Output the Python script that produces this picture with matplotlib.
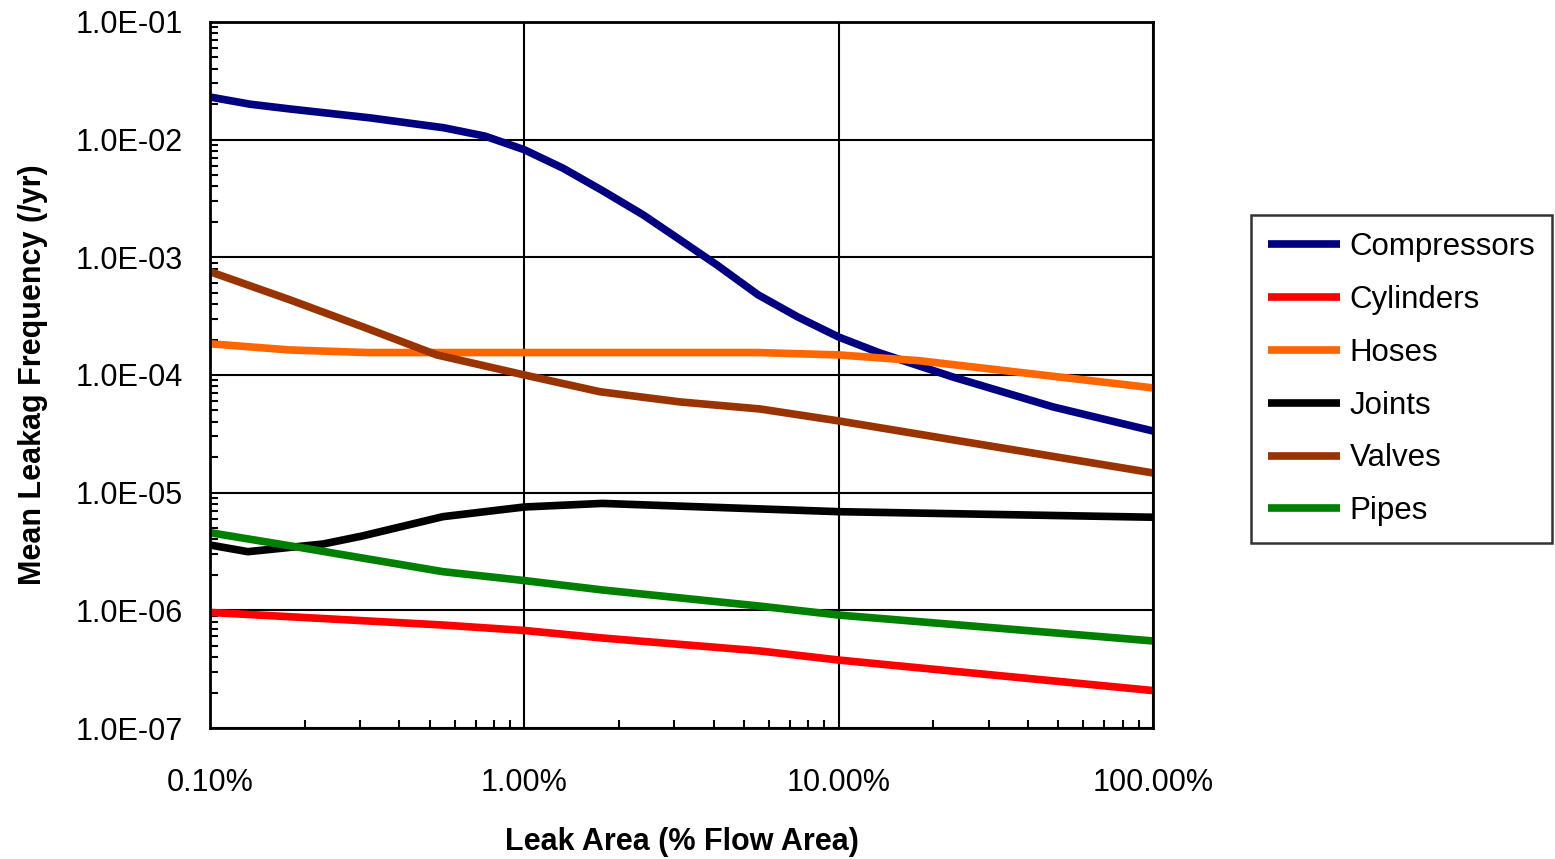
import matplotlib
matplotlib.use("Agg")
import matplotlib.pyplot as plt
from matplotlib.ticker import FuncFormatter, LogLocator, NullFormatter

plt.rcParams["font.family"] = ["Liberation Sans", "DejaVu Sans"]

# leak area (% of flow area) and mean leak frequency (/yr)
comp_x = [0.1, 0.134, 0.18, 0.323, 0.555, 0.75, 1.0, 1.33, 1.78, 2.39, 3.2, 4.1, 5.54, 7.43, 10, 13.5, 23.1, 48.1, 100]
comp_y = [2.3e-2, 2.0e-2, 1.82e-2, 1.53e-2, 1.26e-2, 1.07e-2, 8.2e-3, 5.7e-3, 3.66e-3, 2.29e-3, 1.35e-3,
          8.6e-4, 4.8e-4, 3.1e-4, 2.1e-4, 1.54e-4, 9.6e-5, 5.35e-5, 3.34e-5]

cyl_x = [0.1, 0.55, 1.0, 1.77, 5.6, 10, 100]
cyl_y = [9.6e-7, 7.5e-7, 6.74e-7, 5.82e-7, 4.52e-7, 3.78e-7, 2.08e-7]

hose_x = [0.1, 0.18, 0.316, 5.54, 10, 18.1, 100]
hose_y = [1.84e-4, 1.63e-4, 1.55e-4, 1.55e-4, 1.48e-4, 1.32e-4, 7.76e-5]

joint_x = [0.1, 0.132, 0.229, 0.305, 0.551, 1.0, 1.77, 5.62, 10, 100]
joint_y = [3.59e-6, 3.15e-6, 3.66e-6, 4.28e-6, 6.25e-6, 7.55e-6, 8.1e-6, 7.27e-6, 6.89e-6, 6.18e-6]

valve_x = [0.1, 0.18, 0.307, 0.527, 1.0, 1.74, 3.13, 5.62, 10, 100]
valve_y = [7.55e-4, 4.34e-4, 2.56e-4, 1.48e-4, 1.0e-4, 7.2e-5, 5.9e-5, 5.14e-5, 4.07e-5, 1.47e-5]

pipe_x = [0.1, 0.2, 0.551, 1.0, 1.77, 5.54, 10, 100]
pipe_y = [4.57e-6, 3.37e-6, 2.13e-6, 1.79e-6, 1.49e-6, 1.09e-6, 9.12e-7, 5.49e-7]

series = [
    ("Compressors", comp_x, comp_y, "#000080"),
    ("Cylinders", cyl_x, cyl_y, "#ff0000"),
    ("Hoses", hose_x, hose_y, "#ff6600"),
    ("Joints", joint_x, joint_y, "#000000"),
    ("Valves", valve_x, valve_y, "#993300"),
    ("Pipes", pipe_x, pipe_y, "#008000"),
]

fig = plt.figure(figsize=(15.55, 8.59), dpi=100)
ax = fig.add_axes([0.135, 0.1525, 0.6065, 0.822])

for name, x, y, c in series:
    ax.plot(x, y, color=c, lw=5.5, label=name, solid_capstyle="butt")

ax.set_xscale("log")
ax.set_yscale("log")
ax.set_xlim(0.1, 100)
ax.set_ylim(1e-7, 1e-1)

ax.grid(True, which="major", color="black", lw=1.5)
ax.xaxis.set_minor_locator(LogLocator(base=10, subs=range(2, 10)))
ax.yaxis.set_minor_locator(LogLocator(base=10, subs=range(2, 10)))
ax.xaxis.set_minor_formatter(NullFormatter())
ax.yaxis.set_minor_formatter(NullFormatter())
ax.xaxis.set_major_formatter(FuncFormatter(lambda v, p: f"{v:.2f}%"))
ax.yaxis.set_major_formatter(FuncFormatter(lambda v, p: f"{v:.1E}"))

ax.tick_params(which="both", direction="in", colors="black", labelsize=22)
ax.tick_params(which="major", length=0, width=1.5)
ax.tick_params(which="minor", length=6, width=1.5)
ax.tick_params(axis="x", which="major", pad=29)
ax.tick_params(axis="y", which="major", pad=19.5)

for s in ax.spines.values():
    s.set_linewidth(2)
    s.set_color("black")

ax.set_xlabel("Leak Area (% Flow Area)", fontsize=22, fontweight="bold", labelpad=21)
ax.set_ylabel("Mean Leakag Frequency (/yr)", fontsize=22, fontweight="bold", labelpad=20)

leg = ax.legend(loc="upper left", bbox_to_anchor=(0.8045, 0.7497), bbox_transform=fig.transFigure,
                fontsize=22.5, frameon=True, fancybox=False, edgecolor="black",
                handlelength=2.3, handletextpad=0.3, labelspacing=0.73, borderpad=0.55,
                borderaxespad=0)
leg.get_frame().set_linewidth(1.8)
for h in leg.get_lines():
    h.set_linewidth(5.5)

fig.savefig("out.png", dpi=100)
